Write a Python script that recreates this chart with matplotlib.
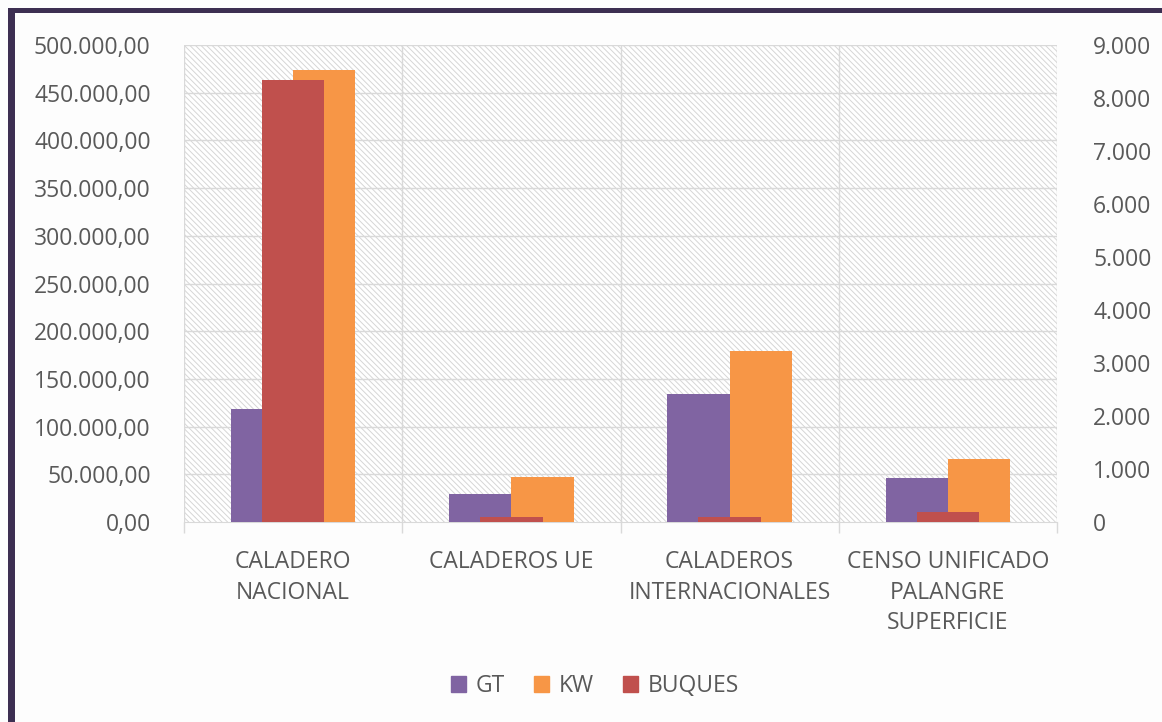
import matplotlib
matplotlib.use("Agg")
import matplotlib.pyplot as plt
import matplotlib.patches as patches
from matplotlib.ticker import FuncFormatter
import numpy as np

categories = ["CALADERO\nNACIONAL", "CALADEROS UE", "CALADEROS\nINTERNACIONALES",
              "CENSO UNIFICADO\nPALANGRE\nSUPERFICIE"]
gt = [118000, 29000, 134000, 46000]
kw = [474000, 47500, 179000, 66500]
buques = [8340, 100, 100, 185]

plt.rcParams["font.family"] = ["Open Sans", "DejaVu Sans"]
plt.rcParams["hatch.linewidth"] = 0.7

W, H = 1162, 722
fig = plt.figure(figsize=(W / 100, H / 100), dpi=100)
fig.patch.set_facecolor("#fdfdfd")

# dark frame (left and top edges visible)
fig.add_artist(patches.Rectangle((8 / W, -0.1), 7 / W, 1.1 - 8 / H, transform=fig.transFigure,
                                 facecolor="#3d2f52", edgecolor="none"))
fig.add_artist(patches.Rectangle((8 / W, 1 - 13 / H), 1.1, 5 / H, transform=fig.transFigure,
                                 facecolor="#3d2f52", edgecolor="none"))

ax = fig.add_axes([184 / W, (H - 522) / H, 873 / W, 477 / H])
ax2 = ax.twinx()

text_color = "#595959"
grid_color = "#d9d9d9"
fs = 16.5
x = np.arange(len(categories))
bw = 0.2857

# hatched plot area
ax.add_patch(patches.Rectangle((-0.5, 0), 4, 500000, facecolor="white", edgecolor="#d6d6d6",
                               linewidth=0, hatch="\\" * 6, zorder=0))

ax.bar(x - bw / 2, gt, bw, color="#8064a2", label="GT", zorder=3)
ax.bar(x + bw / 2, kw, bw, color="#f79646", label="KW", zorder=3)
ax2.bar(x, buques, bw, color="#c0504d", label="BUQUES", zorder=3)

ax.set_xlim(-0.5, len(categories) - 0.5)
ax.set_ylim(0, 500000)
ax2.set_ylim(0, 9000)
ax.set_yticks(np.arange(0, 500001, 50000))
ax2.set_yticks(np.arange(0, 9001, 1000))

ax.yaxis.set_major_formatter(FuncFormatter(
    lambda v, p: f"{v:,.2f}".replace(",", "X").replace(".", ",").replace("X", ".")))
ax2.yaxis.set_major_formatter(FuncFormatter(lambda v, p: f"{v:,.0f}".replace(",", ".")))

# horizontal grid and vertical category separators
for v in np.arange(50000, 500001, 50000):
    ax.axhline(v, color=grid_color, lw=1, zorder=1)
for b in np.arange(-0.5, len(categories), 1):
    ax.axvline(b, color=grid_color, lw=1, zorder=1)

ax.set_xticks(x)
ax.set_xticklabels(categories, linespacing=1.38)
ax.set_xticks(np.arange(-0.5, len(categories), 1), minor=True)
ax.tick_params(axis="x", which="major", length=0, pad=20, labelsize=fs, labelcolor=text_color)
ax.tick_params(axis="x", which="minor", length=8, color=grid_color, width=1)
ax.tick_params(axis="y", length=0, pad=24, labelsize=fs, labelcolor=text_color)
ax2.tick_params(axis="y", length=0, pad=26, labelsize=fs, labelcolor=text_color)

for a in (ax, ax2):
    for s in a.spines.values():
        s.set_visible(False)
ax.spines["bottom"].set_visible(True)
ax.spines["bottom"].set_color(grid_color)
ax.set_zorder(1)
ax2.set_zorder(2)
ax.patch.set_visible(False)
ax2.patch.set_visible(False)

handles = [patches.Patch(color="#8064a2", label="GT"),
           patches.Patch(color="#f79646", label="KW"),
           patches.Patch(color="#c0504d", label="BUQUES")]
leg = fig.legend(handles=handles, loc="center", bbox_to_anchor=(595 / W, 1 - 686 / H), ncol=3,
                 frameon=False, fontsize=fs, handlelength=0.65, handleheight=0.65,
                 handletextpad=0.4, columnspacing=1.3, labelcolor=text_color)

fig.savefig("out.png", dpi=100, facecolor=fig.get_facecolor())
